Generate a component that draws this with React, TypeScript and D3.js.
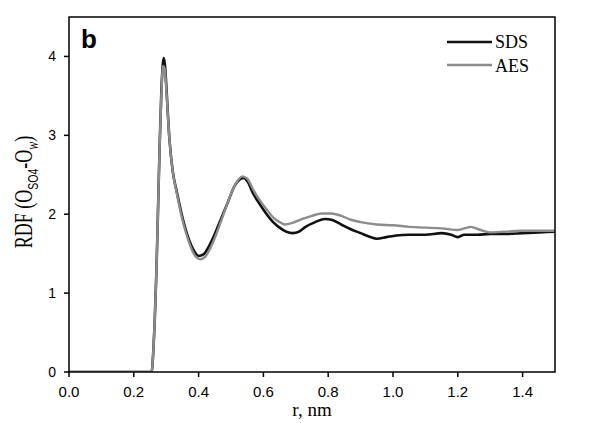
import React from 'react';
import * as d3 from 'd3';

// r (nm) sample positions and RDF values
const sdsR = [0, 0.25, 0.255, 0.26, 0.265, 0.27, 0.275, 0.28, 0.285, 0.29, 0.293, 0.297, 0.3, 0.31, 0.32, 0.333, 0.345, 0.355, 0.37, 0.385, 0.4, 0.415, 0.43, 0.45, 0.47, 0.49, 0.51, 0.53, 0.54, 0.55, 0.57, 0.59, 0.61, 0.63, 0.65, 0.67, 0.69, 0.71, 0.73, 0.76, 0.79, 0.81, 0.84, 0.87, 0.9, 0.93, 0.95, 0.98, 1.01, 1.05, 1.1, 1.15, 1.18, 1.2, 1.22, 1.26, 1.3, 1.35, 1.4, 1.45, 1.5];
const sdsG = [0, 0, 0, 0.25, 0.7, 1.3, 2.1, 2.9, 3.55, 3.92, 3.98, 3.85, 3.65, 2.95, 2.55, 2.28, 2.05, 1.88, 1.68, 1.54, 1.47, 1.49, 1.58, 1.75, 1.95, 2.15, 2.35, 2.45, 2.46, 2.42, 2.25, 2.12, 2.0, 1.9, 1.83, 1.78, 1.76, 1.78, 1.84, 1.9, 1.94, 1.93, 1.87, 1.81, 1.76, 1.71, 1.69, 1.71, 1.73, 1.74, 1.74, 1.76, 1.74, 1.71, 1.74, 1.74, 1.75, 1.75, 1.76, 1.77, 1.78];

const aesR = [0, 0.25, 0.255, 0.26, 0.265, 0.27, 0.275, 0.28, 0.285, 0.29, 0.295, 0.3, 0.31, 0.32, 0.333, 0.345, 0.355, 0.37, 0.385, 0.405, 0.42, 0.435, 0.45, 0.47, 0.49, 0.51, 0.535, 0.55, 0.57, 0.59, 0.61, 0.63, 0.65, 0.665, 0.69, 0.72, 0.75, 0.78, 0.81, 0.84, 0.87, 0.9, 0.95, 1.0, 1.05, 1.1, 1.15, 1.2, 1.24, 1.27, 1.3, 1.35, 1.4, 1.45, 1.5];
const aesG = [0, 0, 0, 0.25, 0.7, 1.3, 2.1, 2.9, 3.5, 3.88, 3.85, 3.6, 2.95, 2.55, 2.26, 2.02, 1.85, 1.65, 1.5, 1.43, 1.46, 1.56, 1.7, 1.92, 2.15, 2.35, 2.48, 2.45, 2.3, 2.17, 2.06, 1.96, 1.9, 1.87, 1.89, 1.94, 1.98, 2.01, 2.01, 1.98, 1.93, 1.9, 1.87, 1.86, 1.84, 1.83, 1.82, 1.8, 1.84, 1.8, 1.77, 1.78, 1.79, 1.79, 1.79];

const xTicks = [0, 0.2, 0.4, 0.6, 0.8, 1.0, 1.2, 1.4];
const yTicks = [0, 1, 2, 3, 4];

const W = 589;
const H = 423;
const m = { left: 69, top: 17, right: 555, bottom: 372 };

export default function App() {
  const x = d3.scaleLinear().domain([0, 1.5]).range([m.left, m.right]);
  const y = d3.scaleLinear().domain([0, 4.5]).range([m.bottom, m.top]);

  const line = d3.line<[number, number]>()
    .x(d => x(d[0]))
    .y(d => y(d[1]))
    .curve(d3.curveMonotoneX);

  const sds = line(sdsR.map((r, i) => [r, sdsG[i]]) as [number, number][]) || '';
  const aes = line(aesR.map((r, i) => [r, aesG[i]]) as [number, number][]) || '';

  const sans = 'Liberation Sans, Arial, sans-serif';
  const serif = 'Liberation Serif, Times New Roman, serif';

  return (
    <div style={{ position: 'fixed', left: 0, top: 0 }}>
      <svg width={W} height={H} style={{ display: 'block', background: '#fff' }}>
        <defs>
          <clipPath id="plot">
            <rect x={m.left} y={m.top} width={m.right - m.left} height={m.bottom - m.top} />
          </clipPath>
        </defs>

        <g clipPath="url(#plot)" fill="none" strokeLinejoin="round">
          <path d={sds} stroke="#111" strokeWidth={2.6} />
          <path d={aes} stroke="#8c8c8c" strokeWidth={2.4} />
        </g>

        <rect x={m.left} y={m.top} width={m.right - m.left} height={m.bottom - m.top}
          fill="none" stroke="#000" strokeWidth={1.5} />

        {xTicks.map(t => (
          <g key={t}>
            <line x1={x(t)} x2={x(t)} y1={m.bottom} y2={m.bottom + 5} stroke="#000" strokeWidth={1.5} />
            <text x={x(t)} y={397} textAnchor="middle" fontFamily={sans} fontSize={15}>
              {d3.format('.1f')(t)}
            </text>
          </g>
        ))}
        {yTicks.map(t => (
          <g key={t}>
            <line x1={m.left - 5} x2={m.left} y1={y(t)} y2={y(t)} stroke="#000" strokeWidth={1.5} />
            <text x={56} y={y(t) + 5} textAnchor="end" fontFamily={sans} fontSize={14}>{t}</text>
          </g>
        ))}

        <text x={312} y={416} textAnchor="middle" fontFamily={serif} fontSize={19}>r, nm</text>

        <text transform="translate(32,192) rotate(-90) scale(1,1.45)" textAnchor="middle"
          fontFamily={serif} fontSize={18}>
          RDF (O<tspan fontSize={10.5} fontFamily={sans} dy={4}>SO4</tspan><tspan dy={-4}>-O</tspan>
          <tspan fontSize={12} dy={4} fontStyle="italic">w</tspan><tspan dy={-4}>)</tspan>
        </text>

        <text x={81} y={48} fontFamily={sans} fontWeight="bold" fontSize={26}>b</text>

        <line x1={447} x2={492} y1={42} y2={42} stroke="#111" strokeWidth={2.6} />
        <text x={495} y={48} fontFamily={serif} fontSize={18}>SDS</text>
        <line x1={447} x2={492} y1={65} y2={65} stroke="#8c8c8c" strokeWidth={2.4} />
        <text x={495} y={72} fontFamily={serif} fontSize={18}>AES</text>
      </svg>
    </div>
  );
}
